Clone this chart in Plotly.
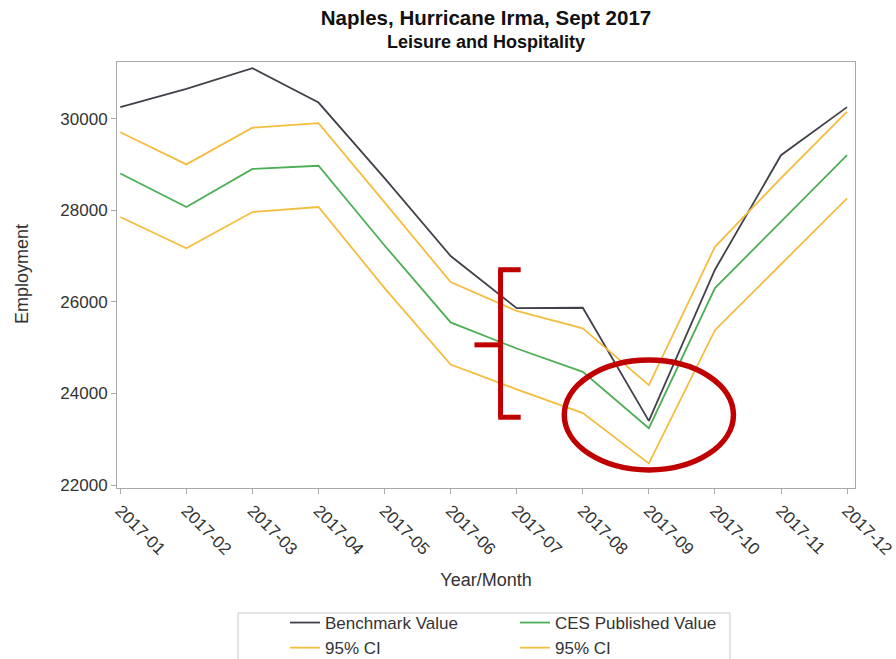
import plotly.graph_objects as go

# Monthly employment, Leisure and Hospitality, Naples 2017
months = ["2017-01", "2017-02", "2017-03", "2017-04", "2017-05", "2017-06",
          "2017-07", "2017-08", "2017-09", "2017-10", "2017-11", "2017-12"]
benchmark = [30250, 30650, 31100, 30350, 28700, 27000,
             25860, 25870, 23400, 26700, 29200, 30250]
ces_published = [28800, 28070, 28900, 28970, 27230, 25550,
                 24980, 24470, 23240, 26300, 27750, 29200]
ci_upper = [29700, 29000, 29800, 29900, 28170, 26430,
            25800, 25420, 24180, 27200, 28700, 30150]
ci_lower = [27850, 27170, 27960, 28070, 26300, 24630,
            24090, 23570, 22470, 25380, 26820, 28260]
y_ticks = [22000, 24000, 26000, 28000, 30000]

FONT = "Liberation Sans, Arial, sans-serif"
TEXT = "#333333"
DARK = "#41414b"
GREEN = "#4caf55"
GOLD = "#f5bd3e"
RED = "#c00000"
FRAME = "#a8a8a8"

fig = go.Figure()
fig.add_trace(go.Scatter(x=months, y=benchmark, mode="lines", name="Benchmark Value",
                         line=dict(color=DARK, width=1.8), legend="legend"))
fig.add_trace(go.Scatter(x=months, y=ci_upper, mode="lines", name="95% CI",
                         line=dict(color=GOLD, width=1.8), legend="legend"))
fig.add_trace(go.Scatter(x=months, y=ces_published, mode="lines", name="CES Published Value",
                         line=dict(color=GREEN, width=1.8), legend="legend2"))
fig.add_trace(go.Scatter(x=months, y=ci_lower, mode="lines", name="95% CI",
                         line=dict(color=GOLD, width=1.8), legend="legend2"))

# Red call-outs: bracket around July and ellipse around September
bracket = dict(type="line", xref="x", yref="y", line=dict(color=RED, width=5))
fig.add_shape(**bracket, x0=5.755, x1=5.755, y0=23480, y1=26700)
fig.add_shape(**bracket, x0=5.72, x1=6.06, y0=26700, y1=26700)
fig.add_shape(**bracket, x0=5.72, x1=6.06, y0=23480, y1=23480)
fig.add_shape(**bracket, x0=5.36, x1=5.755, y0=25060, y1=25060)
fig.add_shape(type="circle", xref="x", yref="y", x0=6.72, x1=9.28, y0=22330, y1=24730,
              line=dict(color=RED, width=5.5))

# Legend frame
fig.add_shape(type="rect", xref="paper", yref="paper", x0=0.164, x1=0.8306,
              y0=-0.4085, y1=-0.2934, line=dict(color="#c8c8c8", width=1))

# Subtitle under the main title
fig.add_annotation(text="<b>Leisure and Hospitality</b>", xref="paper", yref="paper",
                   x=0.5, y=1 + (62 - 42) / 426, xanchor="center", yanchor="middle",
                   showarrow=False, font=dict(family=FONT, size=18, color="#111111"))

# Vertical axis title
fig.add_annotation(text="Employment", xref="paper", yref="paper",
                   x=(22 - 117) / 738, y=(488 - 274) / 426, textangle=-90,
                   xanchor="center", yanchor="middle", showarrow=False,
                   font=dict(family=FONT, size=18, color=TEXT))

legend_style = dict(orientation="v", xref="container", yref="container",
                    xanchor="left", yanchor="top", bgcolor="rgba(0,0,0,0)",
                    font=dict(family=FONT, size=17, color=TEXT), borderwidth=0)

fig.update_layout(
    width=896, height=659,
    margin=dict(l=117, r=41, t=62, b=171, autoexpand=False),
    paper_bgcolor="white", plot_bgcolor="white",
    font=dict(family=FONT, color=TEXT),
    title=dict(text="<b>Naples, Hurricane Irma, Sept 2017</b>",
               x=0.5, xref="paper", xanchor="center",
               y=1 - 18 / 659, yref="container", yanchor="middle",
               font=dict(family=FONT, size=20.5, color="#111111")),
    xaxis=dict(type="category", range=[-0.05, 11.12], tickangle=45,
               showline=True, linecolor=FRAME, mirror=True, showgrid=False,
               ticks="outside", ticklen=5, tickcolor=FRAME, automargin=False,
               tickfont=dict(family=FONT, size=17, color=TEXT),
               title=dict(text="Year/Month", font=dict(family=FONT, size=18, color=TEXT))),
    yaxis=dict(range=[21935, 31235], tickvals=y_ticks, tickformat="d",
               showline=True, linecolor=FRAME, mirror=True, showgrid=False, zeroline=False,
               ticks="outside", ticklen=5, tickcolor=FRAME, automargin=False,
               tickfont=dict(family=FONT, size=17, color=TEXT)),
    legend=dict(**legend_style, x=285 / 896, y=1 - 605 / 659),
    legend2=dict(**legend_style, x=515 / 896, y=1 - 605 / 659),
)

fig.write_html("out.html")
